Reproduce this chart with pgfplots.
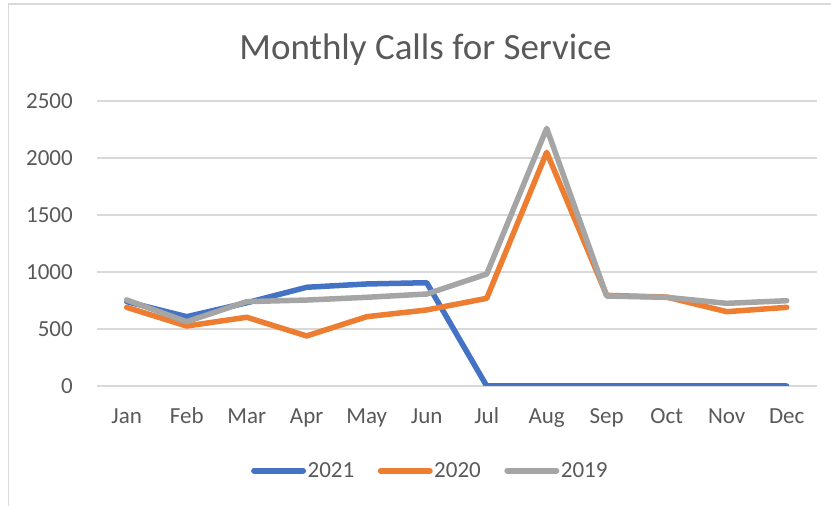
\documentclass[border=0pt]{standalone}
\usepackage{pgfplots}
\pgfplotsset{compat=1.18}
\usepackage{fontspec}
\setmainfont{Carlito}
\definecolor{c21}{HTML}{4472C4}
\definecolor{c20}{HTML}{ED7D31}
\definecolor{c19}{HTML}{A5A5A5}
\definecolor{txt}{HTML}{595959}
\definecolor{grd}{HTML}{D9D9D9}
\begin{document}
\begin{tikzpicture}[x=1pt,y=1pt]
\path[use as bounding box] (0,0) rectangle (831,506);
\draw[color=grd, line width=1.5pt] (8.5,0) -- (8.5,502) -- (831,502);
\node[anchor=base, text=txt, font=\fontsize{37}{44}\selectfont, inner sep=0pt] at (425.5,446) {Monthly Calls for Service};
\begin{axis}[
  at={(96.7pt,120pt)}, anchor=south west,
  scale only axis, width=720pt, height=285pt,
  xmin=-0.5, xmax=11.5, ymin=0, ymax=2500,
  axis line style={draw=none},
  major tick length=0pt,
  xtick={0,...,11},
  xticklabels={Jan,Feb,Mar,Apr,May,Jun,Jul,Aug,Sep,Oct,Nov,Dec},
  ytick={0,500,1000,1500,2000,2500},
  ymajorgrids, grid style={grd, line width=1.5pt},
  /pgf/number format/assume math mode=true,
  /pgf/number format/set thousands separator={},
  tick label style={text=txt, font=\fontsize{23}{27}\selectfont},
  xticklabel style={anchor=base, inner sep=0pt, yshift=-38pt},
  yticklabel style={anchor=east, inner sep=0pt, xshift=-23.7pt},
  legend columns=3,
  legend style={at={(axis description cs:0.463,-0.297)}, anchor=center, draw=none, fill=none,
    font=\fontsize{23}{27}\selectfont, text=txt,
    nodes={inner sep=1.5pt},
    /tikz/every even column/.append style={column sep=22pt}},
  legend image code/.code={\draw[#1, line width=6pt, line cap=round] (3pt,0pt) -- (52pt,0pt);},
  every axis plot/.append style={line width=5.5pt, line join=round, line cap=round},
]
\addplot[c21] coordinates {(0,740) (1,608) (2,730) (3,866) (4,895) (5,906) (6,0) (7,0) (8,0) (9,0) (10,0) (11,0)};
\addplot[c20] coordinates {(0,690) (1,526) (2,603) (3,439) (4,608) (5,667) (6,769) (7,2050) (8,795) (9,780) (10,652) (11,690)};
\addplot[c19] coordinates {(0,755) (1,564) (2,740) (3,754) (4,778) (5,807) (6,982) (7,2260) (8,789) (9,778) (10,725) (11,748)};
\legend{2021,2020,2019}
\end{axis}
\end{tikzpicture}
\end{document}
